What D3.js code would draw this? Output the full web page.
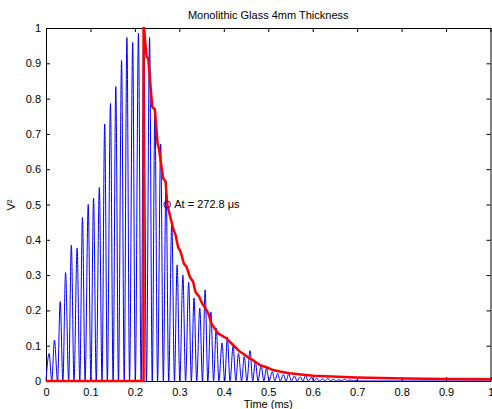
<!DOCTYPE html>
<html>
<head>
<meta charset="utf-8">
<script src="https://cdn.jsdelivr.net/npm/d3@7"></script>
<style>
  body { margin: 0; background: #fff; }
  svg { display: block; font-family: "Liberation Sans", Arial, sans-serif; }
</style>
</head>
<body>
<div class="my_div"></div>
<script>
// Axis ticks and labels
var xTicks = [0, 0.1, 0.2, 0.3, 0.4, 0.5, 0.6, 0.7, 0.8, 0.9, 1];
var xTickLabels = ["0", "0.1", "0.2", "0.3", "0.4", "0.5", "0.6", "0.7", "0.8", "0.9", "1"];
var yTicks = [0, 0.1, 0.2, 0.3, 0.4, 0.5, 0.6, 0.7, 0.8, 0.9, 1];
var yTickLabels = ["0", "0.1", "0.2", "0.3", "0.4", "0.5", "0.6", "0.7", "0.8", "0.9", "1"];

// Blue V^2 signal: peak times (ms) and peak heights
var peakTimes = [0.007, 0.019, 0.032, 0.044, 0.057, 0.070, 0.082, 0.095, 0.107, 0.120,
                 0.132, 0.145, 0.157, 0.170, 0.182, 0.195, 0.208, 0.220, 0.233, 0.245,
                 0.258, 0.270, 0.283, 0.295, 0.308, 0.321, 0.333, 0.346, 0.358, 0.371,
                 0.383, 0.396, 0.408, 0.421, 0.433, 0.446, 0.459, 0.471, 0.484, 0.496,
                 0.509, 0.521, 0.534, 0.546, 0.559, 0.572, 0.584, 0.597, 0.609, 0.622,
                 0.634, 0.647, 0.659, 0.672, 0.684, 0.697];
var peakValues = [0.078, 0.116, 0.225, 0.307, 0.385, 0.377, 0.463, 0.500, 0.518, 0.548,
                  0.728, 0.786, 0.834, 0.908, 0.973, 0.959, 0.985, 1.000, 0.973, 0.774,
                  0.671, 0.567, 0.450, 0.329, 0.300, 0.280, 0.235, 0.206, 0.258, 0.195,
                  0.150, 0.108, 0.124, 0.099, 0.078, 0.069, 0.086, 0.055, 0.045, 0.036,
                  0.026, 0.022, 0.018, 0.020, 0.014, 0.012, 0.015, 0.010, 0.008, 0.006,
                  0.008, 0.005, 0.004, 0.005, 0.003, 0.002];
// Zero crossings between the peaks
var troughTimes = [0, 0.013, 0.026, 0.038, 0.051, 0.063, 0.076, 0.088, 0.101, 0.113,
                   0.126, 0.138, 0.151, 0.163, 0.176, 0.188, 0.201, 0.214, 0.226, 0.239,
                   0.251, 0.264, 0.276, 0.289, 0.301, 0.314, 0.327, 0.339, 0.352, 0.364,
                   0.377, 0.389, 0.402, 0.414, 0.427, 0.440, 0.452, 0.465, 0.477, 0.490,
                   0.502, 0.515, 0.527, 0.540, 0.552, 0.565, 0.578, 0.590, 0.603, 0.615,
                   0.628, 0.640, 0.653, 0.666, 0.678, 0.691, 0.703, 1.0];

// Red decay envelope
var envTimes = [0, 0.2195, 0.2195, 0.2205, 0.2263, 0.230, 0.239, 0.245, 0.251, 0.254,
                0.2636, 0.269, 0.2728, 0.2787, 0.286, 0.2914, 0.297, 0.303, 0.310, 0.316,
                0.3236, 0.331, 0.336, 0.3446, 0.351, 0.359, 0.365, 0.372, 0.387, 0.406,
                0.421, 0.436, 0.443, 0.458, 0.466, 0.481, 0.496, 0.511, 0.526, 0.548,
                0.563, 0.601, 0.698, 0.81, 0.90, 1.0];
var envValues = [0, 0, 1, 1, 0.919, 0.914, 0.777, 0.768, 0.673, 0.659,
                 0.574, 0.565, 0.500, 0.470, 0.432, 0.414, 0.380, 0.366, 0.333, 0.324,
                 0.295, 0.281, 0.253, 0.239, 0.220, 0.206, 0.192, 0.163, 0.135, 0.121,
                 0.102, 0.083, 0.078, 0.064, 0.059, 0.045, 0.039, 0.031, 0.027, 0.022,
                 0.020, 0.015, 0.010, 0.0072, 0.006, 0.005];

// Marked point
var markTime = 0.2728, markValue = 0.5;
var markLabel = "At = 272.8 \u03bcs";

var width = 492, height = 409;
var padLeft = 46, padRight = 490.5, padTop = 28, padBottom = 381;

var xScale = d3.scaleLinear().domain([0, 1]).range([padLeft, padRight]);
var yScale = d3.scaleLinear().domain([0, 1]).range([padBottom, padTop]);

var svg = d3.select(".my_div")
    .append("svg")
    .attr("width", width)
    .attr("height", height);

// Build the blue signal as alternating zero / peak points
var blue = [];
troughTimes.forEach((t, i) => {
    blue.push([t, 0]);
    if (i < peakTimes.length) blue.push([peakTimes[i], peakValues[i]]);
});

var blueLine = d3.line()
    .x((d) => { return xScale(d[0]); })
    .y((d) => { return yScale(d[1]); })
    .curve(d3.curveMonotoneX);

var redLine = d3.line()
    .x((d, i) => { return xScale(envTimes[i]); })
    .y((d, i) => { return yScale(envValues[i]); });

// Axes, ticks pointing inward like MATLAB
svg.append("g")
    .attr("transform", "translate(0," + padBottom + ")")
    .call(d3.axisBottom(xScale).tickValues(xTicks).tickFormat((d, i) => xTickLabels[i])
        .tickSizeInner(-4).tickSizeOuter(0).tickPadding(7));
svg.append("g")
    .attr("transform", "translate(0," + padTop + ")")
    .call(d3.axisTop(xScale).tickValues(xTicks).tickFormat("")
        .tickSizeInner(-4).tickSizeOuter(0));
svg.append("g")
    .attr("transform", "translate(" + padLeft + ",0)")
    .call(d3.axisLeft(yScale).tickValues(yTicks).tickFormat((d, i) => yTickLabels[i])
        .tickSizeInner(-4).tickSizeOuter(0).tickPadding(5));
svg.append("g")
    .attr("transform", "translate(" + padRight + ",0)")
    .call(d3.axisRight(yScale).tickValues(yTicks).tickFormat("")
        .tickSizeInner(-4).tickSizeOuter(0));

svg.selectAll(".tick text")
    .attr("font-size", 11)
    .attr("font-family", "Liberation Sans, Arial, sans-serif")
    .attr("fill", "#000");
svg.selectAll(".domain").attr("stroke", "#000");

svg.append("path")
    .datum(blue)
    .attr("d", blueLine)
    .attr("fill", "none")
    .attr("stroke", "#0000ff")
    .attr("stroke-width", 1);

svg.append("path")
    .datum(envValues)
    .attr("d", redLine)
    .attr("fill", "none")
    .attr("stroke", "#ff0000")
    .attr("stroke-width", 2.5)
    .attr("stroke-linejoin", "round");

svg.append("circle")
    .attr("cx", xScale(markTime))
    .attr("cy", yScale(markValue))
    .attr("r", 3.3)
    .attr("fill", "none")
    .attr("stroke", "#0000ff")
    .attr("stroke-width", 1);

svg.append("text")
    .text(markLabel)
    .attr("x", xScale(markTime) + 7)
    .attr("y", yScale(markValue))
    .attr("dy", "0.35em")
    .attr("font-size", 11)
    .attr("fill", "#000");

// Title and axis labels
svg.append("text")
    .text("Monolithic Glass 4mm Thickness")
    .attr("x", (padLeft + padRight) / 2)
    .attr("y", 19)
    .attr("text-anchor", "middle")
    .attr("font-size", 11)
    .attr("fill", "#000");

svg.append("text")
    .text("Time (ms)")
    .attr("x", (padLeft + padRight) / 2)
    .attr("y", 408)
    .attr("text-anchor", "middle")
    .attr("font-size", 11)
    .attr("fill", "#000");

svg.append("text")
    .text("V\u00b2")
    .attr("transform", "translate(15,205) rotate(-90)")
    .attr("text-anchor", "middle")
    .attr("font-size", 11)
    .attr("fill", "#000");
</script>
</body>
</html>
